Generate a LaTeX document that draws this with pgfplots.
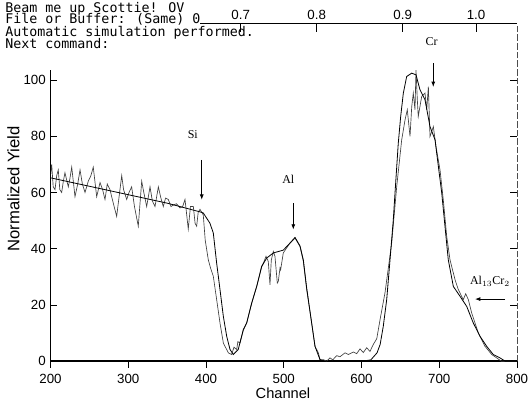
\documentclass[border=0pt]{standalone}
\usepackage{pgfplots}
\pgfplotsset{compat=1.18}
\usepackage{pgfplotstable}
\usetikzlibrary{arrows.meta}
\usepackage{fontspec}
\setmainfont{Liberation Sans}
\newfontfamily\termfont{DejaVu Sans Mono}
\newfontfamily\annfont{Liberation Serif}

\pgfplotstableread{
ch y
200 66
201.5 70
203.5 62
205.8 61
208 66
210 68
212 61
214.4 60
216.5 64
218.6 67
222.9 62
225 65
227.3 69
231.5 58.5
235 63
238 68
241 63
244.4 60
248.6 64
252 66
255 69
259.4 58.5
263.7 63.5
267 61
270.1 57.5
273 63
276.5 61
280 57
285.1 51.5
288 58
291.6 66
294 61
298 57.5
301 60
304.4 62
308 55
312.9 48
317.3 64
320 60
323.7 55
328 62
331 57
334.4 55
338.7 62
342 58
345.1 55
348 58
351.5 57.5
355 55
357.9 55.5
362 56
366.6 54.5
370 55
373 57.5
377.2 47
380 55
383.7 55
386 49
388 48
390 53
392.3 54
396.5 52
399 43
403 36
406 33
409.4 30.2
413.7 21.9
418 13.6
422.3 6.5
428.7 3
433 2.4
436 5
439.5 4.2
441 7
443.7 6.5
448 11
452.3 13.6
458.8 20.7
465.2 26.6
471.6 33.7
474 35
477.2 37.3
480.1 35.5
482.3 27.2
484 36
486.6 39
488.7 37.3
491.7 27.8
493 28.4
495.2 33.2
496 32.5
499.4 38.5
503 40
508 42
514.5 43.8
520.9 40.8
525.2 35.5
529.5 25.5
535.9 13.6
540.2 5.3
544.5 3
546.6 0.6
550.9 0.6
555 0
559.5 1.2
563 0.5
568.1 2
572.3 1.6
578.8 3
583 2.4
589.5 3.3
593.8 2.7
598.1 4.4
602.3 3.1
606.7 4.8
610.9 3.5
615.2 6
619.6 8
624 15
630.2 24.3
638.8 42
645.3 62.1
651.7 78.7
656 85.8
658.9 89.4
662.4 79.9
664.6 90.5
666.6 95.3
668.8 89.4
670.1 103.5
671.8 92.9
673 87
677.4 94.1
681.7 95.3
683.9 89.4
686 97.6
688.1 79.9
692.4 83.4
695.8 76.3
701 68
705.2 57.4
709.6 44.4
713.8 36.1
720.3 29
724.5 25.5
730.9 21.9
734 24
737.4 21.9
741.7 17.2
750.2 10.1
758.9 5.3
767.5 2.4
773.9 1.2
780 0
800 0
}\exptable

\pgfplotstableread{
ch y
200 65.2
250 62.2
300 59.2
350 56.2
392.3 53.1
396.5 52.7
405 49.1
409.4 45.6
413.7 34.9
418 25.5
422.3 16
426.6 8.9
430.9 4.2
435.1 2.4
441.5 4.2
448 11.3
452.3 13.6
458.8 20.7
465.2 26.6
471.6 33.7
478.1 36.7
486.6 38.5
499.4 39.5
508 42
514.5 44
520.9 41
525.2 36
529.5 26
535.9 13.6
540.2 5.3
546.6 0.6
552 0
600 0
612 0.5
620 3
624 6
628 12.4
632.4 21.9
636.7 36.1
640.9 50.3
643.1 59.8
647.3 77.5
650.4 87
653.8 95.3
658.1 101.2
664.6 102.4
670.1 101.8
675.2 96.5
681.7 92.9
688.1 83.4
694.6 78.7
696.7 74
703.2 59.8
707.4 47.9
711.6 36.1
718.1 26.6
726.7 23.1
735.3 19.5
743.8 13.6
752.4 8.9
761 5.3
769.5 2.4
778.1 1.2
785 0
800 0
}\simtable

\begin{document}
\begin{tikzpicture}
\begin{axis}[
  scale only axis,
  width=350.25pt, height=253.5pt,
  xmin=200, xmax=800, ymin=0, ymax=120,
  axis x line=bottom, axis y line=left,
  x axis line style={line width=1.3pt,-},
  y axis line style={draw=none},
  xtick={200,300,...,800}, ytick={0,20,...,100},
  xtick align=outside, ytick align=inside,
  major tick length=5pt,
  tick style={black, line width=0.6pt},
  ticklabel style={font=\fontsize{10}{12}\selectfont},
  xticklabel style={yshift=-1.5pt},
  /pgf/number format/assume math mode=true,
  clip=false,
]
\addplot[black!75, line width=0.5pt] table[x=ch, y=y] {\exptable};
\addplot[black, line width=0.6pt] table[x=ch, y=y] {\simtable};

% frame pieces
\draw[line width=0.6pt] (axis cs:200,0) -- (axis cs:200,103.5);
\draw[black!70, line width=0.6pt, dash pattern=on 5pt off 1.5pt] (axis cs:800,0) -- (axis cs:800,120);
\pgfplotsinvokeforeach{20,40,60,80,100}{\draw[line width=0.6pt] (axis cs:800,#1) -- (axis cs:791.4,#1);}
\draw[line width=1pt] (axis cs:392.3,120) -- (axis cs:800,120);
\pgfplotsinvokeforeach{444.6,542.4,653,747.3}{\draw[line width=0.6pt] (axis cs:#1,120) -- (axis cs:#1,117);}
\node[font=\fontsize{10}{12}\selectfont] at (axis cs:444.6,123.1) {0.7};
\node[font=\fontsize{10}{12}\selectfont] at (axis cs:542.4,123.1) {0.8};
\node[font=\fontsize{10}{12}\selectfont] at (axis cs:653,123.1) {0.9};
\node[font=\fontsize{10}{12}\selectfont] at (axis cs:747.3,123.1) {1.0};

% terminal text
\node[anchor=base west, inner sep=0pt, font=\termfont\fontsize{10}{12}\selectfont] at (axis cs:141.5,124.0) {Beam me up Scottie! OV};
\node[anchor=base west, inner sep=0pt, font=\termfont\fontsize{10}{12}\selectfont] at (axis cs:141.5,120.0) {File or Buffer: (Same)};
\node[anchor=base west, inner sep=0pt, font=\termfont\fontsize{10}{12}\selectfont] at (axis cs:382,120.0) {0};
\node[anchor=base west, inner sep=0pt, font=\termfont\fontsize{10}{12}\selectfont] at (axis cs:141.5,115.6) {Automatic simulation performed.};
\node[anchor=base west, inner sep=0pt, font=\termfont\fontsize{10}{12}\selectfont] at (axis cs:141.5,111.3) {Next command:};

% axis labels
\node[font=\fontsize{11}{13}\selectfont, inner sep=0pt] at (axis cs:499,-11.3) {Channel};
\node[rotate=90, font=\fontsize{12.5}{14}\selectfont] at (axis cs:152.4,61.3) {Normalized Yield};

% annotations
\node[font=\annfont\fontsize{9}{10}\selectfont] at (axis cs:383,80.5) {Si};
\draw[line width=0.6pt, -{Latex[length=4pt,width=3pt]}] (axis cs:394.5,71.6) -- (axis cs:394.5,57.4);
\node[font=\annfont\fontsize{9}{10}\selectfont] at (axis cs:505.9,64.7) {Al};
\draw[line width=0.6pt, -{Latex[length=4pt,width=3pt]}] (axis cs:512.3,56.2) -- (axis cs:512.3,46.8);
\node[font=\annfont\fontsize{9}{10}\selectfont] at (axis cs:690.3,113.6) {Cr};
\draw[line width=0.6pt, -{Latex[length=4pt,width=3pt]}] (axis cs:692.3,106) -- (axis cs:692.3,97.5);
\node[font=\annfont\fontsize{9}{10}\selectfont] at (axis cs:765.3,28.4) {Al$_{13}$Cr$_2$};
\draw[line width=0.6pt, -{Latex[length=4pt,width=3pt]}] (axis cs:784.6,22.1) -- (axis cs:746,22.1);

\coordinate (BL) at (axis cs:135.05,-14.66);
\coordinate (TR) at (axis cs:819.3,128.4);
\end{axis}
\pgfresetboundingbox
\path[use as bounding box] (BL) rectangle (TR);
\end{tikzpicture}
\end{document}
